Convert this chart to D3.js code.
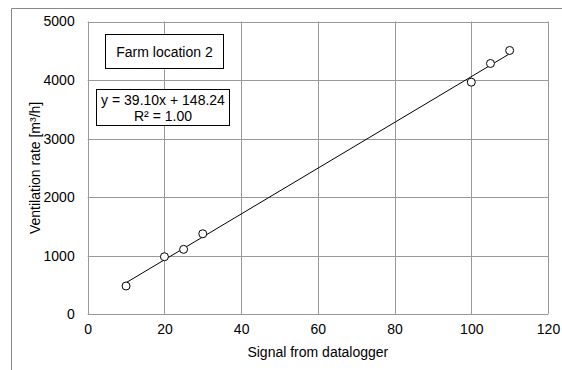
<!DOCTYPE html>
<html>
<head>
<meta charset="utf-8">
<script src="https://cdn.jsdelivr.net/npm/d3@7"></script>
<style>
  html, body { margin: 0; padding: 0; background: #fff; }
  svg { display: block; font-family: "Liberation Sans", Arial, sans-serif; }
</style>
</head>
<body>
<svg id="chart" width="562" height="370"></svg>
<script>
// Measured signal vs. ventilation rate
const signal = [10, 20, 25, 30, 100, 105, 110];
const ventilation = [483, 983, 1109, 1375, 3964, 4283, 4505];

// Linear trendline coefficients
const slope = 39.10;
const intercept = 148.24;
const rSquared = 1.00;

const xTicks = [0, 20, 40, 60, 80, 100, 120];
const yTicks = [0, 1000, 2000, 3000, 4000, 5000];
const title = "Farm location 2";

const FS = 14;
const svg = d3.select("#chart");
const plot = { left: 87.7, right: 548, top: 21.5, bottom: 314.3 };

const x = d3.scaleLinear().domain([0, 120]).range([plot.left, plot.right]);
const y = d3.scaleLinear().domain([0, 5000]).range([plot.bottom, plot.top]);

// Outer chart frame (left and top edges)
svg.append("line").attr("x1", 11.5).attr("x2", 11.5).attr("y1", 8.5).attr("y2", 370)
  .attr("stroke", "#888").attr("stroke-width", 1);
svg.append("line").attr("x1", 11.5).attr("x2", 562).attr("y1", 8.5).attr("y2", 8.5)
  .attr("stroke", "#888").attr("stroke-width", 1);

// Gridlines
const grid = svg.append("g").attr("stroke", "#999").attr("stroke-width", 1);
grid.selectAll("line.v").data(xTicks).join("line")
  .attr("x1", d => Math.round(x(d)) + 0.5).attr("x2", d => Math.round(x(d)) + 0.5)
  .attr("y1", plot.top).attr("y2", plot.bottom);
grid.selectAll("line.h").data(yTicks).join("line")
  .attr("x1", plot.left).attr("x2", plot.right)
  .attr("y1", d => Math.round(y(d)) + 0.5).attr("y2", d => Math.round(y(d)) + 0.5);

// Axes (labels only, no tick marks)
const xAxis = svg.append("g").attr("transform", `translate(0,${plot.bottom})`)
  .call(d3.axisBottom(x).tickValues(xTicks).tickFormat(d3.format("d")).tickSize(0).tickPadding(10));
const yAxis = svg.append("g").attr("transform", `translate(${plot.left},0)`)
  .call(d3.axisLeft(y).tickValues(yTicks).tickFormat(d3.format("d")).tickSize(0).tickPadding(13));
[xAxis, yAxis].forEach(a => {
  a.attr("font-size", FS).attr("font-family", "Liberation Sans, Arial, sans-serif");
  a.select(".domain").remove();
  a.selectAll("text").attr("fill", "#000");
});

// Axis titles
svg.append("text").attr("x", (plot.left + plot.right) / 2).attr("y", 357)
  .attr("text-anchor", "middle").attr("font-size", FS).text("Signal from datalogger");
svg.append("text")
  .attr("transform", `translate(40,${(plot.top + plot.bottom) / 2}) rotate(-90)`)
  .attr("text-anchor", "middle").attr("font-size", FS)
  .text("Ventilation rate [m³/h]");

// Trendline across the data range
const [xMin, xMax] = d3.extent(signal);
svg.append("line")
  .attr("x1", x(xMin)).attr("y1", y(slope * xMin + intercept))
  .attr("x2", x(xMax)).attr("y2", y(slope * xMax + intercept))
  .attr("stroke", "#000").attr("stroke-width", 1);

// Data points
svg.append("g").selectAll("circle").data(signal).join("circle")
  .attr("cx", d => x(d)).attr("cy", (d, i) => y(ventilation[i]))
  .attr("r", 4).attr("fill", "#fff").attr("stroke", "#000").attr("stroke-width", 1);

// Title box
svg.append("rect").attr("x", 105.5).attr("y", 34.5).attr("width", 118).attr("height", 34)
  .attr("fill", "#fff").attr("stroke", "#000").attr("stroke-width", 1);
svg.append("text").attr("x", 164.5).attr("y", 56.5).attr("text-anchor", "middle")
  .attr("font-size", FS).text(title);

// Equation box
svg.append("rect").attr("x", 96.5).attr("y", 89.5).attr("width", 133).attr("height", 36)
  .attr("fill", "#fff").attr("stroke", "#000").attr("stroke-width", 1);
svg.append("text").attr("x", 163).attr("y", 105).attr("text-anchor", "middle")
  .attr("font-size", FS)
  .text(`y = ${slope.toFixed(2)}x + ${intercept.toFixed(2)}`);
svg.append("text").attr("x", 163).attr("y", 120.5).attr("text-anchor", "middle")
  .attr("font-size", FS)
  .text(`R² = ${rSquared.toFixed(2)}`);
</script>
</body>
</html>
